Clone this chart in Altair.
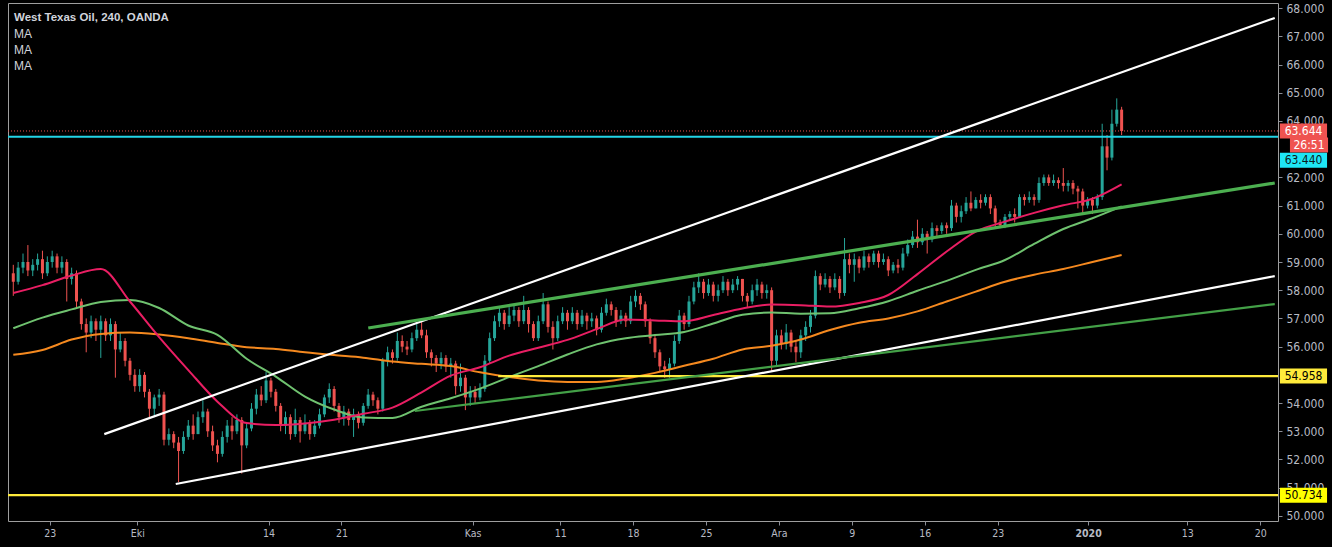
import altair as alt
import pandas as pd

# ---------------- data ----------------
first_open = 58.6
closes = [
    58.3, 58.8, 59.0, 58.7, 58.9, 59.1, 58.6, 59.0, 59.2, 58.8,
    59.0, 58.4, 58.6, 57.6, 56.8, 56.5, 56.9, 56.6, 56.9, 56.4,
    56.8, 55.9, 56.2, 55.5, 55.0, 54.6, 55.0, 54.4, 53.8, 54.2,
    54.3, 52.7, 52.9, 52.6, 52.3, 52.8, 53.2, 52.9, 53.5, 53.7,
    53.0, 52.5, 52.2, 52.8, 53.2, 53.0, 53.4, 52.5, 53.1, 53.8,
    54.3, 54.1, 54.8, 54.4, 53.9, 53.2, 53.5, 52.9, 53.4, 53.0,
    53.3, 52.9, 53.2, 53.6, 54.2, 54.5, 53.9, 53.5, 53.7, 53.4,
    53.6, 53.3, 53.9, 54.3, 54.1, 53.8, 55.5, 55.8, 55.6, 56.2,
    56.0, 55.9, 56.3, 56.6, 56.4, 55.8, 55.6, 55.4, 55.6, 55.3,
    55.4, 54.6, 54.9, 54.2, 54.4, 54.2, 54.5, 55.5, 56.3, 56.9,
    57.2, 56.8, 57.1, 57.3, 56.9, 57.3, 56.8, 56.3, 56.9, 57.5,
    56.7, 56.3, 56.9, 57.2, 56.9, 57.2, 56.8, 57.1, 56.9, 57.0,
    56.6, 57.2, 57.5, 57.3, 56.9, 57.1, 56.9, 57.6, 57.8, 57.5,
    56.9, 56.3, 55.8, 55.3, 55.2, 55.4, 56.2, 57.1, 56.8, 57.6,
    58.1, 58.3, 57.9, 58.2, 57.8, 58.0, 58.3, 58.0, 58.2, 58.4,
    57.8, 57.6, 58.0, 58.2, 57.9, 58.0, 55.5, 56.4, 56.1, 56.5,
    56.0, 55.8, 56.4, 56.7, 57.1, 58.5, 58.2, 58.4, 58.1, 58.4,
    57.9, 59.1, 58.9, 59.1, 58.8, 59.2, 59.0, 59.3, 59.0, 59.1,
    58.7, 58.9, 58.8, 59.3, 59.6, 59.9, 59.7, 60.0, 59.8, 60.2,
    60.1, 60.3, 60.2, 61.0, 60.6, 60.8, 61.1, 60.9, 61.2, 61.1,
    61.3, 60.9, 60.4, 60.3, 60.6, 60.7, 60.6, 61.3, 61.2, 61.3,
    61.2, 61.8, 62.0, 61.8, 61.9, 61.8, 61.7, 61.8, 61.6, 61.5,
    61.0, 61.2, 61.0, 61.3, 63.1, 62.7, 63.9, 64.4, 63.644,
]
highs = [
    58.9, 59.0, 59.3, 59.6, 59.1, 59.3, 59.4, 59.2, 59.4, 59.3,
    59.2, 59.1, 58.8, 58.7, 57.7, 57.0, 57.1, 57.0, 57.1, 57.0,
    57.0, 56.9, 56.5, 56.3, 55.6, 55.2, 55.2, 55.1, 54.5, 54.3,
    54.5, 54.4, 53.1, 53.0, 52.8, 53.0, 53.4, 53.6, 53.7, 54.1,
    53.8, 53.2, 52.7, 53.0, 53.4, 53.5, 53.6, 53.5, 53.3, 54.0,
    54.5, 54.6, 55.1, 54.9, 54.5, 54.0, 53.7, 53.6, 53.8, 53.5,
    53.6, 53.4, 53.4, 53.8, 54.3, 54.7, 54.6, 54.0, 53.9, 53.8,
    53.8, 53.7, 54.0, 54.5, 54.4, 54.2, 55.6, 56.0, 55.9, 56.5,
    56.4, 56.2, 56.5, 56.8, 56.9, 56.6, 55.9, 55.7, 55.8, 55.7,
    55.6, 55.5, 55.4, 55.0, 54.6, 54.6, 54.7, 55.7, 56.5, 57.1,
    57.4, 57.3, 57.4, 57.5, 57.4, 57.8, 57.4, 56.9, 57.1, 57.9,
    57.6, 56.9, 57.1, 57.4, 57.3, 57.4, 57.3, 57.3, 57.2, 57.2,
    57.1, 57.4, 57.7, 57.6, 57.4, 57.3, 57.2, 57.8, 58.0, 57.9,
    57.6, 57.0, 56.4, 55.9, 55.5, 55.6, 56.4, 57.3, 57.2, 57.8,
    58.3, 58.6, 58.4, 58.4, 58.3, 58.2, 58.5, 58.4, 58.4, 58.5,
    58.4, 57.9, 58.2, 58.4, 58.3, 58.2, 58.1, 56.6, 56.6, 56.8,
    56.6, 56.2, 56.6, 56.9, 57.3, 58.7, 58.6, 58.6, 58.5, 58.6,
    58.5, 59.85, 59.3, 59.3, 59.2, 59.4, 59.3, 59.4, 59.4, 59.3,
    59.2, 59.0, 59.1, 59.5, 59.8, 60.1, 60.5, 60.2, 60.1, 60.4,
    60.3, 60.4, 60.4, 61.2, 61.1, 61.0, 61.3, 61.5, 61.3, 61.4,
    61.4, 61.4, 61.0, 60.5, 60.7, 60.8, 60.9, 61.4, 61.4, 61.5,
    61.4, 62.0, 62.1, 62.1, 62.1, 62.0, 62.33, 61.9, 61.9, 61.7,
    61.6, 61.3, 61.3, 61.4, 63.9, 63.5, 64.4, 64.8, 64.5,
]
lows = [
    57.8, 58.2, 58.6, 58.5, 58.5, 58.7, 58.4, 58.5, 58.8, 58.6,
    58.6, 57.6, 58.2, 57.4, 56.6, 55.8, 56.3, 56.2, 55.6, 56.2,
    56.2, 54.9, 55.8, 55.3, 54.8, 54.4, 54.4, 54.2, 53.5, 53.5,
    53.9, 52.5, 52.5, 52.4, 51.2, 52.2, 52.7, 52.7, 52.9, 53.3,
    52.8, 52.3, 51.9, 52.1, 52.6, 52.7, 52.9, 51.5, 52.4, 53.0,
    53.6, 53.9, 54.0, 54.2, 53.7, 53.0, 52.9, 52.7, 52.8, 52.6,
    52.9, 52.7, 52.8, 53.1, 53.5, 54.0, 53.7, 53.3, 53.2, 53.2,
    52.8, 53.1, 53.2, 53.8, 53.9, 53.6, 53.7, 55.3, 55.4, 55.5,
    55.8, 55.7, 55.8, 56.2, 56.3, 55.6, 55.3, 55.1, 55.2, 55.1,
    54.9, 54.3, 54.4, 53.75, 53.9, 54.0, 54.1, 54.4, 55.4, 56.2,
    56.7, 56.6, 56.7, 56.9, 56.7, 56.8, 56.5, 56.2, 56.2, 56.8,
    56.5, 55.9, 56.2, 56.8, 56.6, 56.8, 56.6, 56.7, 56.6, 56.7,
    56.4, 56.5, 57.1, 57.1, 56.7, 56.8, 56.7, 56.8, 57.4, 57.3,
    56.7, 56.1, 55.6, 55.1, 54.9, 54.9, 55.3, 56.1, 56.6, 56.7,
    57.5, 57.9, 57.7, 57.8, 57.6, 57.6, 57.9, 57.8, 57.9, 58.0,
    57.6, 57.4, 57.5, 57.8, 57.7, 57.7, 55.1, 55.3, 55.9, 55.9,
    55.8, 55.45, 55.6, 56.2, 56.5, 57.0, 58.0, 58.1, 57.9, 58.0,
    57.7, 57.8, 58.6, 58.3, 58.6, 58.7, 58.8, 58.9, 58.8, 58.9,
    58.5, 58.6, 58.6, 58.7, 59.2, 59.5, 59.5, 59.6, 59.3, 59.7,
    59.9, 60.0, 60.0, 60.1, 60.4, 60.4, 60.7, 60.8, 60.9, 60.9,
    61.0, 60.7, 60.2, 60.2, 60.2, 60.5, 60.4, 60.6, 61.0, 61.1,
    61.0, 61.1, 61.7, 61.7, 61.7, 61.6, 61.5, 61.5, 61.4, 60.9,
    60.7, 60.9, 60.7, 60.9, 61.2, 62.25, 62.6, 63.8, 63.5,
]

# moving averages, one value every 2 trading days (every 6th bar)
ma_fast = [57.90, 58.18, 58.52, 58.75, 57.60, 56.34, 55.17, 54.05, 53.29, 53.22,
           53.28, 53.41, 53.62, 53.84, 54.38, 54.97, 55.27, 55.68, 55.96, 56.24,
           56.62, 56.96, 56.93, 56.90, 57.12, 57.35, 57.49, 57.47, 57.42, 57.55,
           57.83, 58.57, 59.37, 60.08, 60.43, 60.74, 61.01, 61.24, 61.75]
ma_mid = [56.65, 57.03, 57.32, 57.58, 57.65, 57.37, 56.75, 56.42, 55.57, 54.94,
          54.23, 53.77, 53.49, 53.47, 53.87, 54.17, 54.51, 54.92, 55.31, 55.72,
          56.08, 56.30, 56.41, 56.52, 56.82, 57.13, 57.21, 57.17, 57.18, 57.36,
          57.61, 57.98, 58.33, 58.72, 59.07, 59.64, 60.17, 60.55, 60.97]
ma_slow = [55.71, 55.88, 56.25, 56.45, 56.50, 56.43, 56.30, 56.13, 55.98, 55.92,
           55.80, 55.70, 55.61, 55.47, 55.39, 55.31, 55.09, 54.92, 54.80, 54.75,
           54.75, 54.87, 55.07, 55.32, 55.57, 55.90, 56.03, 56.25, 56.59, 56.85,
           57.00, 57.25, 57.60, 57.95, 58.30, 58.55, 58.75, 59.00, 59.25]

# time axis (trading days from 23 Sep)
tick_days = [0, 6, 15, 20, 29, 35, 40, 45, 50, 55, 60, 65, 71.2, 78, 83]
tick_names = ["23", "Eki", "14", "21", "Kas", "11", "18", "25", "Ara", "9",
              "16", "23", "2020", "13", "20"]
# price labels visible on the right scale (63 and 55 sit under the price tags)
price_ticks = [50, 51, 52, 53, 54, 56, 57, 58, 59, 60, 61, 62, 64, 65, 66, 67, 68]

# drawn trend lines: start (day, price) -> end (day, price)
trend_names = ["white upper", "white lower", "green upper", "green lower"]
trend_d1 = [3.74, 8.64, 21.84, 25.03]
trend_p1 = [52.90, 51.13, 56.66, 53.72]
trend_d2 = [84.0, 84.0, 84.0, 84.0]
trend_p2 = [67.65, 58.50, 61.80, 57.51]

# horizontal levels
level_cyan = 63.44
level_last = 63.644
level_yellow_hi = 54.958
level_yellow_hi_start = 30.75
level_yellow_lo = 50.734

assert len(closes) == len(highs) == len(lows) == 229
assert len(ma_fast) == len(ma_mid) == len(ma_slow) == 39

# ---------------- tables ----------------
bars = pd.DataFrame({
    "d": [-2.5 + i / 3 for i in range(len(closes))],
    "open": [first_open] + closes[:-1],
    "close": closes,
    "high": highs,
    "low": lows,
})
bars["high"] = bars[["high", "open", "close"]].max(axis=1)
bars["low"] = bars[["low", "open", "close"]].min(axis=1)
bars["dir"] = ["up" if c >= o else "down" for o, c in zip(bars["open"], bars["close"])]

ma_d = [-2.5 + 2 * k for k in range(len(ma_fast))]

W, H = 1270, 518
xscale = alt.Scale(domain=[-2.52, 83.88], nice=False, zero=False)
yscale = alt.Scale(domain=[49.82, 68.18], nice=False, zero=False)

AXIS_FONT = "DejaVu Sans Condensed, Liberation Sans Narrow, Liberation Sans"
label_expr = "[" + ",".join(f"'{n}'" for n in tick_names) + "][indexof([" + \
    ",".join(str(v) for v in tick_days) + "], datum.value)]"

x_axis = alt.Axis(orient="bottom", values=tick_days, labelExpr=label_expr, title=None,
                  grid=False, domain=False, tickSize=4, tickColor="#8a8d96",
                  labelColor="#b8bbc4", labelFont=AXIS_FONT, labelFontSize=10.5,
                  labelPadding=3, labelOverlap=False, labelFlush=False,
                  labelFontWeight={"expr": "datum.value == 71.2 ? 'bold' : 'normal'"})
y_axis = alt.Axis(orient="right", values=price_ticks, format=".3f", title=None,
                  grid=False, domain=False, tickSize=4, tickColor="#8a8d96",
                  labelColor="#b8bbc4", labelFont=AXIS_FONT, labelFontSize=12,
                  labelPadding=4, labelOverlap=False, labelFlush=False)


def X(field):
    return alt.X(f"{field}:Q", scale=xscale, axis=x_axis)


def Y(field):
    return alt.Y(f"{field}:Q", scale=yscale, axis=y_axis)


candle_color = alt.Color("dir:N", scale=alt.Scale(domain=["up", "down"],
                                                  range=["#26a69a", "#ef5350"]),
                         legend=None)

wicks = alt.Chart(bars).mark_rule(strokeWidth=1, clip=True).encode(
    x=X("d"), y=Y("low"), y2="high", color=candle_color)
bodies = alt.Chart(bars).mark_bar(width=3, clip=True).encode(
    x=X("d"), y=Y("open"), y2="close", color=candle_color)


def ma_layer(values, color):
    df = pd.DataFrame({"d": ma_d, "v": values})
    return alt.Chart(df).mark_line(color=color, strokeWidth=2, clip=True,
                                   interpolate="monotone").encode(x=X("d"), y=Y("v"))


ma_layers = [ma_layer(ma_slow, "#f5891f"), ma_layer(ma_mid, "#6fc26f"),
             ma_layer(ma_fast, "#e91e63")]

trend = pd.DataFrame({"name": trend_names, "d1": trend_d1, "p1": trend_p1,
                      "d2": trend_d2, "p2": trend_p2})
trend_styles = {"white upper": ("#ffffff", 2.2), "white lower": ("#ffffff", 2.2),
                "green upper": ("#4caf50", 3.2), "green lower": ("#43a047", 2.2)}
trend_layers = []
for name, (col, sw) in trend_styles.items():
    trend_layers.append(
        alt.Chart(trend[trend["name"] == name]).mark_rule(color=col, strokeWidth=sw, clip=True)
        .encode(x=X("d1"), x2="d2", y=Y("p1"), y2="p2"))

lv = pd.DataFrame({"p": [level_cyan, level_last, level_yellow_hi, level_yellow_lo],
                   "d": [None, None, level_yellow_hi_start, None]})
cyan_line = alt.Chart(lv.iloc[[0]]).mark_rule(color="#22d3e6", strokeWidth=2.2).encode(y=Y("p"))
dotted_line = alt.Chart(lv.iloc[[1]]).mark_rule(color="#ef5350", strokeWidth=1,
                                                strokeDash=[1, 2]).encode(y=Y("p"))
yellow_hi = alt.Chart(lv.iloc[[2]]).mark_rule(color="#ffeb3b", strokeWidth=2.2).encode(
    x=X("d"), x2=alt.value(W), y=Y("p"))
yellow_lo = alt.Chart(lv.iloc[[3]]).mark_rule(color="#ffeb3b", strokeWidth=2.2).encode(y=Y("p"))


def price_box(price, text, fill, text_color, shift, half_w, xc):
    df = pd.DataFrame({"p": [price], "t": [text]})
    box = alt.Chart(df).mark_point(
        shape=f"M-{half_w},-0.5H{half_w}V0.5H-{half_w}Z", size=900, filled=True,
        color=fill, opacity=1, strokeWidth=0, yOffset=shift).encode(
        x=alt.value(xc), y=Y("p"))
    lab = alt.Chart(df).mark_text(color=text_color, font=AXIS_FONT, fontSize=12,
                                  align="center", baseline="middle", dy=shift).encode(
        x=alt.value(xc), y=Y("p"), text="t:N")
    return [box, lab]


boxes = []
boxes += price_box(level_last, "63.644", "#ef5350", "#ffffff", 0, 1.57, 1295.5)
boxes += price_box(level_last, "26:51", "#ef5350", "#ffffff", 14, 1.27, 1301)
boxes += price_box(level_cyan, "63.440", "#1ee6f5", "#0b1a20", 23.5, 1.57, 1295.5)
boxes += price_box(level_yellow_hi, "54.958", "#ffeb3b", "#000000", 0, 1.57, 1295.5)
boxes += price_box(level_yellow_lo, "50.734", "#ffff00", "#000000", 0, 1.57, 1295.5)


def header(text, ypix, weight, size):
    return alt.Chart(pd.DataFrame({"t": [text]})).mark_text(
        align="left", baseline="middle", font="Liberation Sans", fontSize=size,
        fontWeight=weight, color="#d1d4dc").encode(
        x=alt.value(6), y=alt.value(ypix), text="t:N")


headers = [header("West Texas Oil, 240, OANDA", 15, "bold", 11.5),
           header("MA", 31, "normal", 12),
           header("MA", 47, "normal", 12),
           header("MA", 63, "normal", 12)]

chart = alt.layer(
    bodies, wicks, *ma_layers, cyan_line, dotted_line, yellow_hi, yellow_lo,
    *trend_layers, *boxes, *headers
).properties(
    width=W, height=H, background="#000000",
    padding={"left": 8, "top": 3, "right": 54, "bottom": 26},
    autosize=alt.AutoSizeParams(type="none"),
).configure_view(stroke="#9e9e9e", strokeWidth=1, fill="#000000")

chart.save("out.html", embed_options={"renderer": "svg", "actions": False})
